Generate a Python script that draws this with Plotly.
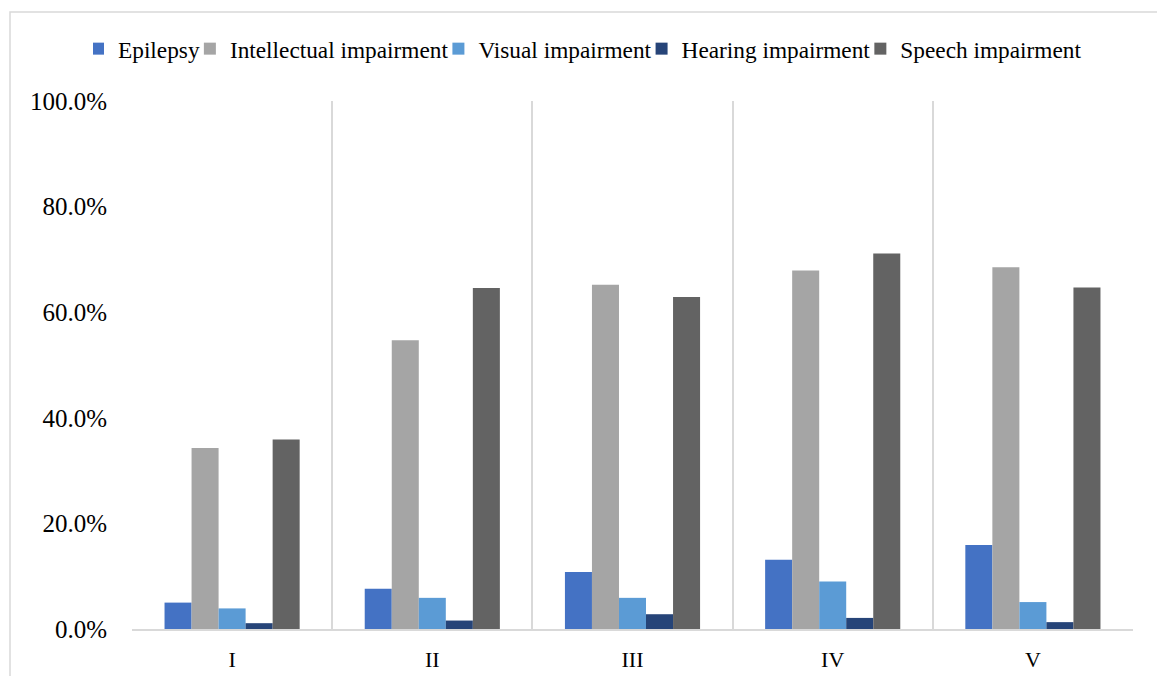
import plotly.graph_objects as go

categories = ["I", "II", "III", "IV", "V"]
series_names = ["Epilepsy", "Intellectual impairment", "Visual impairment",
                "Hearing impairment", "Speech impairment"]
epilepsy = [0.050, 0.076, 0.108, 0.131, 0.159]
intellectual = [0.343, 0.547, 0.652, 0.679, 0.685]
visual = [0.039, 0.059, 0.059, 0.090, 0.051]
hearing = [0.011, 0.016, 0.028, 0.021, 0.013]
speech = [0.359, 0.646, 0.629, 0.711, 0.647]
colors = ["#4472C4", "#A5A5A5", "#5B9BD5", "#264478", "#636363"]

series_values = [epilepsy, intellectual, visual, hearing, speech]

W, H = 1157, 676
L, R, T, B = 132, 24, 101, 47

fig = go.Figure()
for name, vals, col in zip(series_names, series_values, colors):
    fig.add_trace(go.Bar(x=categories, y=vals, name=name,
                         marker=dict(color=col, line=dict(width=0))))

font = "Liberation Serif, Times New Roman, serif"
pw = W - L - R
ph = H - T - B

def px_x(p):
    return (p - L) / pw

def px_y(p):
    return (H - B - p) / ph

fig.update_layout(
    width=W, height=H,
    margin=dict(l=L, r=R, t=T, b=B, autoexpand=False),
    paper_bgcolor="white", plot_bgcolor="white",
    barmode="group", bargap=0.325, bargroupgap=0,
    font=dict(family=font, size=24, color="#000000"),
    legend=dict(orientation="h", xref="container", yref="container",
                x=590 / W, y=1 - 49 / H,
                xanchor="center", yanchor="middle",
                bgcolor="rgba(0,0,0,0)",
                font=dict(family=font, size=23.3, color="#000000"),
                itemwidth=30, indentation=-15, tracegroupgap=0),
    xaxis=dict(type="category", tickson="boundaries", showgrid=True,
               gridcolor="#d9d9d9", gridwidth=1.5, ticks="", ticklen=0,
               showline=True, linecolor="#d9d9d9", linewidth=2,
               tickfont=dict(family=font, size=22), ticklabelstandoff=10,
               zeroline=False),
    yaxis=dict(range=[0, 1], dtick=0.2, tickformat=".1%", showgrid=False,
               showline=False, zeroline=False, ticks="",
               tickfont=dict(family=font, size=25), ticklabelstandoff=24),
    shapes=[dict(type="rect", xref="paper", yref="paper",
                 x0=px_x(10), x1=px_x(1175), y0=px_y(690), y1=px_y(12),
                 line=dict(color="#d9d9d9", width=1.5), layer="below")],
)

fig.write_html("out.html",
               config={"displayModeBar": False},
               post_script="document.body.style.margin='0';document.body.style.overflow='hidden';")
